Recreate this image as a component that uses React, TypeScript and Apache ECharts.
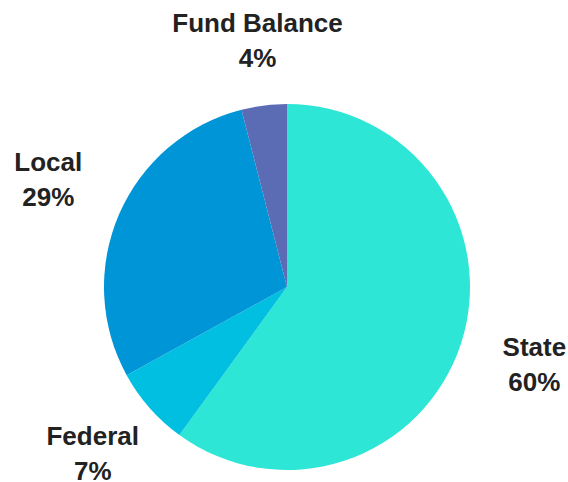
import React, { useEffect, useRef } from "react";
import * as echarts from "echarts";

const categories = ["State", "Federal", "Local", "Fund Balance"];
const values = [60, 7, 29, 4];
const colors = ["#2EE6D6", "#00BFE0", "#0095D7", "#5B6BB4"];
const labelOffsets = [
  [1, -3],
  [0, -5],
  [-1, -5],
  [3, 10],
];

export default function App() {
  const ref = useRef<HTMLDivElement>(null);
  useEffect(() => {
    if (!ref.current) return;
    const chart = echarts.init(ref.current, undefined, { renderer: "svg" });
    const data = categories.map((name, i) => ({
      name,
      value: values[i],
      itemStyle: { color: colors[i] },
    }));
    chart.setOption({
      animation: false,
      series: [
        {
          type: "pie",
          center: [287, 287],
          radius: [0, 183],
          startAngle: 90,
          clockwise: true,
          label: { show: false },
          labelLine: { show: false },
          data,
          silent: true,
        },
        {
          type: "pie",
          center: [287, 287],
          radius: [230, 282],
          startAngle: 90,
          clockwise: true,
          silent: true,
          itemStyle: { color: "rgba(0,0,0,0)", borderWidth: 0 },
          label: {
            show: true,
            position: "inside",
            formatter: (p: any) => `${p.name}\n${p.value}%`,
            fontFamily: "Liberation Sans, Arial, sans-serif",
            fontWeight: "bold",
            fontSize: 26,
            lineHeight: 35,
            color: "#222222",
            align: "center",
          },
          labelLine: { show: false },
          data: categories.map((name, i) => ({
            name,
            value: values[i],
            itemStyle: { color: "rgba(0,0,0,0)" },
            label: { offset: labelOffsets[i] },
          })),
        },
      ],
    });
    return () => chart.dispose();
  }, []);
  return (
    <div
      ref={ref}
      style={{ position: "absolute", left: 0, top: 0, width: 568, height: 482, background: "#fff" }}
    />
  );
}
